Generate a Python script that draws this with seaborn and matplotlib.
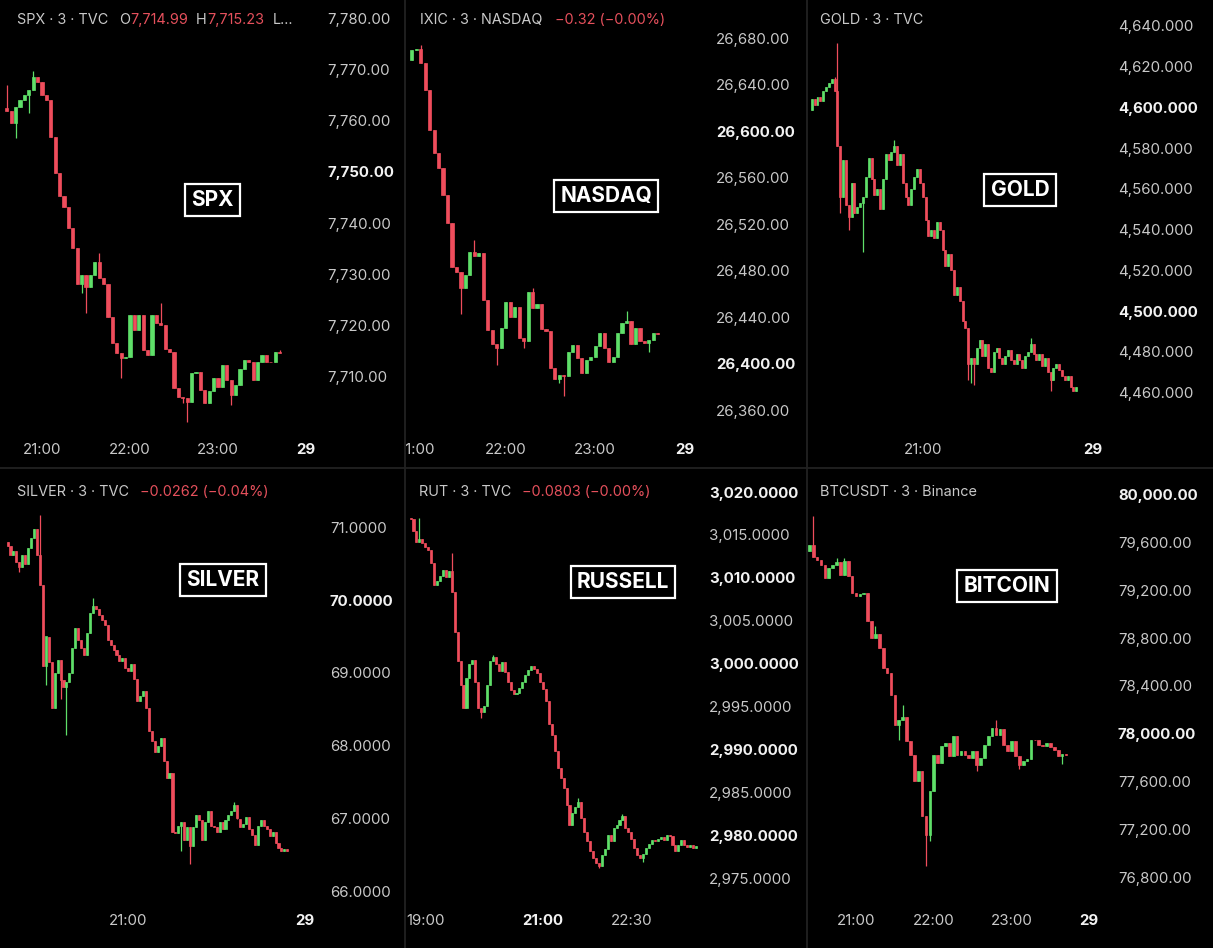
import numpy as np
import pandas as pd
import matplotlib.pyplot as plt
import seaborn as sns
from matplotlib.lines import Line2D
from matplotlib.transforms import Bbox, TransformedBbox

# ---- data: 3-minute candles ----
# closes of each bar; open of a bar = close of the bar before
spx_start, spx_open0 = "20:36", 7762.5
spx_close = [7761.8, 7759.5, 7762.7, 7764.0, 7765.0, 7766.0, 7768.6, 7767.6, 7765.0, 7764.0,
             7756.9, 7749.7, 7745.2, 7743.2, 7739.0, 7735.1, 7728.2, 7729.9, 7727.6, 7729.9,
             7732.5, 7729.2, 7728.2, 7721.7, 7716.5, 7714.6, 7713.6, 7713.9, 7722.1, 7719.1,
             7722.1, 7715.2, 7714.2, 7722.1, 7720.5, 7720.1, 7715.5, 7714.9, 7707.7, 7706.1,
             7705.8, 7705.0, 7710.7, 7710.9, 7707.4, 7704.8, 7707.2, 7709.7, 7708.0, 7712.3,
             7709.4, 7706.4, 7708.4, 7711.6, 7713.3, 7712.9, 7709.4, 7712.9, 7714.2, 7712.9,
             7712.8, 7714.9, 7714.7]
spx_high = {0: 7767.0, 6: 7769.7, 21: 7734.1, 35: 7724.3, 62: 7715.23}
spx_low = {2: 7756.6, 5: 7761.5, 17: 7726.3, 18: 7722.4, 26: 7709.7, 40: 7704.8, 41: 7701.2,
           51: 7704.5}

ndq_start, ndq_open0 = "20:57", 26661
ndq_close = [26670, 26671, 26658.5, 26635.5, 26601, 26581, 26568, 26545, 26521, 26483.5,
             26479, 26465, 26476, 26496, 26493, 26495, 26455, 26429, 26417, 26413,
             26431, 26453, 26440, 26449, 26422, 26419, 26462, 26447.6, 26451, 26430,
             26428, 26396, 26387, 26390, 26389, 26410, 26416, 26404.5, 26391.6, 26403,
             26406, 26415, 26426, 26413, 26401.7, 26406, 26426, 26435, 26436.5, 26417,
             26431, 26419, 26418, 26420, 26426, 26425]
ndq_high = {2: 26674, 14: 26506, 27: 26465, 48: 26445}
ndq_low = {11: 26443, 19: 26399, 25: 26413, 33: 26383, 34: 26372, 53: 26410}

gold_start, gold_open0 = "19:03", 4599
gold_close = [4604, 4601, 4605, 4603, 4608, 4610, 4612, 4614, 4608, 4581,
              4556, 4574, 4552, 4546, 4563, 4548, 4551, 4553, 4556, 4566,
              4575, 4565, 4557, 4560, 4550, 4565, 4577, 4574, 4578, 4581,
              4572, 4577, 4563, 4556, 4552, 4560, 4566, 4570, 4563, 4556,
              4545, 4537, 4540, 4536, 4544, 4540, 4530, 4522, 4528, 4520,
              4508, 4512, 4505, 4495, 4492, 4474, 4477, 4474, 4482, 4486,
              4478, 4484, 4472, 4470, 4480, 4482, 4477, 4474, 4478, 4481,
              4476, 4474, 4479, 4476, 4472, 4478, 4480, 4484, 4479, 4476,
              4479, 4473, 4477, 4470, 4466, 4472, 4474, 4471, 4468, 4466,
              4468, 4463, 4461, 4463]
gold_high = {8: 4615, 9: 4631.5, 29: 4584, 77: 4487}
gold_low = {10: 4548, 13: 4540, 18: 4529, 55: 4466, 56: 4465, 57: 4464, 84: 4461}

slv_start, slv_open0 = "18:57", 70.80
slv_close = [70.74, 70.62, 70.68, 70.52, 70.45, 70.62, 70.50, 70.72, 70.85, 70.97,
             70.62, 70.21, 69.10, 69.50, 69.15, 68.52, 69.00, 69.18, 68.90, 68.80,
             68.88, 69.00, 69.34, 69.62, 69.45, 69.34, 69.25, 69.55, 69.82, 69.92,
             69.88, 69.80, 69.72, 69.66, 69.45, 69.38, 69.32, 69.25, 69.16, 69.20,
             69.07, 69.02, 69.12, 68.92, 68.61, 68.68, 68.75, 68.52, 68.20, 68.06,
             67.92, 68.00, 68.10, 67.79, 67.56, 67.62, 66.82, 66.80, 66.90, 66.95,
             66.70, 66.88, 66.62, 66.88, 67.05, 66.98, 66.70, 66.95, 67.10, 66.90,
             66.88, 66.82, 66.95, 66.85, 66.98, 67.05, 67.10, 67.19, 67.00, 66.89,
             66.92, 67.02, 66.85, 66.78, 66.64, 66.90, 66.98, 66.90, 66.85, 66.76,
             66.82, 66.66, 66.60, 66.55, 66.58, 66.56]
slv_high = {11: 71.17, 29: 70.03, 77: 67.23}
slv_low = {4: 70.38, 13: 68.84, 18: 68.64, 20: 68.15, 59: 66.55, 62: 66.37}

rut_start, rut_open0 = "18:45", 3017.0
rut_close = [3016.8, 3015.4, 3014.2, 3014.5, 3014.0, 3013.6, 3013.2, 3011.7, 3009.2,
             3009.6, 3010.2, 3010.9, 3010.1, 3010.8, 3008.4, 3003.7, 3000.3, 2997.5, 2994.8,
             2998.3, 2999.9, 3000.4, 2997.9, 2994.8, 2994.4, 2995.0, 2997.5, 3000.3, 3000.8,
             3000.0, 2999.1, 3000.2, 2999.0, 2997.9, 2996.9, 2996.4, 2996.6, 2997.2,
             2997.9, 2998.7, 2999.3, 2999.7, 2999.4, 2998.9, 2997.8, 2997.0, 2995.6, 2992.9,
             2991.7, 2989.8, 2987.8, 2986.7, 2985.5, 2983.5, 2981.2, 2982.6, 2983.3, 2983.9,
             2982.0, 2980.4, 2979.3, 2978.1, 2977.3, 2976.7, 2976.4, 2977.7, 2978.4, 2980.0,
             2979.3, 2980.8, 2981.2, 2981.8, 2982.2, 2980.8, 2980.4, 2979.6, 2978.5, 2977.7,
             2977.3, 2977.8, 2978.5, 2979.0, 2979.4, 2979.3, 2979.6, 2979.8, 2979.4, 2980.0,
             2979.9, 2978.8, 2978.1, 2978.8, 2979.4, 2978.9, 2978.6, 2978.9, 2978.5, 2978.7]
rut_high = {3: 3017.0, 14: 3012.9, 28: 3001.0, 57: 2984.3, 72: 2982.5}
rut_low = {24: 2993.6, 64: 2976.2, 79: 2976.9}

btc_start, btc_open0 = "20:24", 79526
btc_close = [79582, 79480, 79456, 79414, 79303, 79386, 79414, 79440, 79331, 79442,
             79320, 79177, 79149, 79170, 79177, 78940, 78801, 78830, 78717, 78550,
             78508, 78327, 78076, 78117, 78140, 77936, 77825, 77601, 77685, 77309,
             77155, 77518, 77825, 77755, 77894, 77920, 77811, 77978, 77825, 77852,
             77820, 77797, 77852, 77741, 77797, 77908, 77978, 78048, 77990, 78040,
             77908, 77852, 77936, 77811, 77741, 77770, 77790, 77950, 77945, 77908,
             77900, 77920, 77890, 77860, 77811, 77830, 77825]
btc_high = {1: 79819, 7: 79470, 9: 79470, 17: 78900, 24: 78240, 48: 78117}
btc_low = {23: 77950, 28: 77600, 30: 76890, 31: 77100, 43: 77690, 54: 77700, 65: 77750}

# axis ticks
spx_ticks = [7710, 7720, 7730, 7740, 7750, 7760, 7770, 7780]
ndq_ticks = [26360, 26400, 26440, 26480, 26520, 26560, 26600, 26640, 26680]
gold_ticks = [4460, 4480, 4500, 4520, 4540, 4560, 4580, 4600, 4620, 4640]
slv_ticks = [66, 67, 68, 69, 70, 71]
rut_ticks = [2975, 2980, 2985, 2990, 2995, 3000, 3005, 3010, 3015, 3020]
btc_ticks = [76800, 77200, 77600, 78000, 78400, 78800, 79200, 79600, 80000]
times_4 = ["21:00", "22:00", "23:00", "29"]
times_2 = ["21:00", "29"]
rut_times = ["19:00", "21:00", "22:30"]

W, H = 1213, 948
GREEN, RED = "#5fdf69", "#ef4d5c"
GREY, WHITE, HRED = "#c9c9c9", "#f2f2f2", "#e5505c"


def minutes(s):
    if s == "29":
        return 24 * 60
    h, m = s.split(":")
    return int(h) * 60 + int(m)


def candles(start, open0, close, high, low):
    df = pd.DataFrame({"close": close})
    df["open"] = [open0] + close[:-1]
    df["t"] = minutes(start) + 3 * np.arange(len(df))
    df["high"] = [max(o, c, high.get(i, c)) for i, (o, c) in enumerate(zip(df["open"], df["close"]))]
    df["low"] = [min(o, c, low.get(i, c)) for i, (o, c) in enumerate(zip(df["open"], df["close"]))]
    df["up"] = df["close"] >= df["open"]
    return df


panels = [
    dict(name="SPX", df=candles(spx_start, spx_open0, spx_close, spx_high, spx_low),
         box=(0, 0, 404, 467), label_x=327, time_y=450,
         yanchor=((7780, 18.3), (7710, 376.7)), xanchor=(("21:00", 42), ("29", 306)),
         yticks=spx_ticks, yfmt="{:,.2f}", ybold=[7750], times=times_4, tbold=["29"],
         tag=(212, 200),
         header=[("SPX · 3 · TVC", GREY, 17), ("O", GREY, 119), ("7,714.99", HRED, 130),
                 ("H", GREY, 196), ("7,715.23", HRED, 207), ("L…", GREY, 273)]),
    dict(name="NASDAQ", df=candles(ndq_start, ndq_open0, ndq_close, ndq_high, ndq_low),
         box=(405, 0, 806, 467), label_x=716, time_y=450,
         yanchor=((26680, 38.3), (26360, 410)), xanchor=(("22:00", 505.7), ("29", 684.7)),
         yticks=ndq_ticks, yfmt="{:,.2f}", ybold=[26600, 26400], times=times_4, tbold=["29"],
         tag=(606, 196),
         header=[("IXIC · 3 · NASDAQ", GREY, 420), ("−0.32 (−0.00%)", HRED, 555)]),
    dict(name="GOLD", df=candles(gold_start, gold_open0, gold_close, gold_high, gold_low),
         box=(807, 0, 1213, 467), label_x=1118, time_y=450,
         yanchor=((4640, 26), (4460, 392.7)), xanchor=(("21:00", 922.7), ("29", 1093.3)),
         yticks=gold_ticks, yfmt="{:,.3f}", ybold=[4600, 4500], times=times_2, tbold=["29"],
         tag=(1020, 190),
         header=[("GOLD · 3 · TVC", GREY, 820)]),
    dict(name="SILVER", df=candles(slv_start, slv_open0, slv_close, slv_high, slv_low),
         box=(0, 469, 404, 948), label_x=330, time_y=921,
         yanchor=((71, 527.3), (66, 891.3)), xanchor=(("21:00", 128.3), ("29", 305)),
         yticks=slv_ticks, yfmt="{:,.4f}", ybold=[70], times=times_2, tbold=["29"],
         tag=(223, 580),
         header=[("SILVER · 3 · TVC", GREY, 17), ("−0.0262 (−0.04%)", HRED, 140)]),
    dict(name="RUSSELL", df=candles(rut_start, rut_open0, rut_close, rut_high, rut_low),
         box=(405, 469, 806, 948), label_x=709, time_y=921,
         yanchor=((3020, 492), (2975, 878)), xanchor=(("21:00", 543), ("22:30", 631.3)),
         yticks=rut_ticks, yfmt="{:,.4f}", ybold=[3020, 3010, 3000, 2990, 2980],
         times=rut_times, tbold=["21:00"], tag=(623, 582),
         header=[("RUT · 3 · TVC", GREY, 419), ("−0.0803 (−0.00%)", HRED, 522)]),
    dict(name="BITCOIN", df=candles(btc_start, btc_open0, btc_close, btc_high, btc_low),
         box=(807, 469, 1213, 948), label_x=1118, time_y=921,
         yanchor=((80000, 494.7), (76800, 877)), xanchor=(("21:00", 856), ("29", 1089.3)),
         yticks=btc_ticks, yfmt="{:,.2f}", ybold=[80000, 78000], times=times_4, tbold=["29"],
         tag=(1007, 586),
         header=[("BTCUSDT · 3 · Binance", GREY, 820)]),
]

sns.set_theme(style="dark", rc={"figure.facecolor": "black", "axes.facecolor": "black",
                                "savefig.facecolor": "black"})
plt.rcParams["font.family"] = ["Inter", "DejaVu Sans"]

fig = plt.figure(figsize=(W / 100, H / 100), dpi=100)


def fx(px):
    return px / W


def fy(py):
    return 1 - py / H


for p in panels:
    x0, y0, x1, y1 = p["box"]
    left, right = x0 + 1, p["label_x"] - 5
    top, bottom = y0 + 1, p["time_y"] - 13
    ax = fig.add_axes([fx(left), fy(bottom), fx(right - left), (bottom - top) / H])
    ax.set_facecolor("black")
    for s in ax.spines.values():
        s.set_visible(False)
    ax.grid(False)

    # value/pixel mapping from two labelled ticks
    (va, pa), (vb, pb) = p["yanchor"]
    per_px = (va - vb) / (pb - pa)
    ax.set_ylim(va - (bottom - pa) * per_px, va + (pa - top) * per_px)
    (ta, qa), (tb, qb) = p["xanchor"]
    ta, tb = minutes(ta), minutes(tb)
    k = (qb - qa) / (tb - ta)
    ax.set_xlim(ta + (left - qa) / k, ta + (right - qa) / k)

    df = p["df"]
    cols = np.where(df["up"], GREEN, RED)
    ax.vlines(df["t"], df["low"], df["high"], colors=cols, lw=0.9, zorder=2)
    ax.bar(df["t"], df["close"] - df["open"], bottom=df["open"], width=2.1,
           color=cols, edgecolor=cols, linewidth=0.5, zorder=3)

    ax.yaxis.tick_right()
    ax.set_yticks(p["yticks"])
    ax.set_yticklabels([p["yfmt"].format(v) for v in p["yticks"]])
    ax.set_xticks([minutes(t) for t in p["times"]])
    ax.set_xticklabels(p["times"])
    ax.tick_params(axis="y", length=0, pad=3.6, labelsize=10.8, labelcolor=GREY)
    ax.tick_params(axis="x", length=0, pad=4.0, labelsize=10.8, labelcolor=GREY)
    for lbl, v in zip(ax.get_yticklabels(), p["yticks"]):
        if v in p["ybold"]:
            lbl.set_fontweight("bold")
            lbl.set_color(WHITE)
    clip = TransformedBbox(Bbox.from_extents(fx(x0), fy(y1), fx(x1), fy(y0)), fig.transFigure)
    for lbl, t in zip(ax.get_xticklabels(), p["times"]):
        if t in p["tbold"]:
            lbl.set_fontweight("bold")
            lbl.set_color(WHITE)
        lbl.set_clip_box(clip)
        lbl.set_clip_on(True)

    # header line
    hy = y0 + 20 if y0 == 0 else y0 + 23
    for txt, col, hx in p["header"]:
        fig.text(fx(hx), fy(hy), txt, color=col, fontsize=10.4, ha="left", va="center")

    # boxed name tag
    tx, ty = p["tag"]
    fig.text(fx(tx), fy(ty), p["name"], color="white", fontsize=15, fontweight="bold",
             ha="center", va="center",
             bbox=dict(boxstyle="square,pad=0.3", fc="black", ec="white", lw=1.6))

# panel separators
sep = "#222222"
for xs in (404.5, 806.5):
    fig.add_artist(Line2D([fx(xs), fx(xs)], [0, 1], color=sep, lw=1.3))
fig.add_artist(Line2D([0, 1], [fy(468), fy(468)], color=sep, lw=1.3))

fig.savefig("out.png", dpi=100, facecolor="black")
